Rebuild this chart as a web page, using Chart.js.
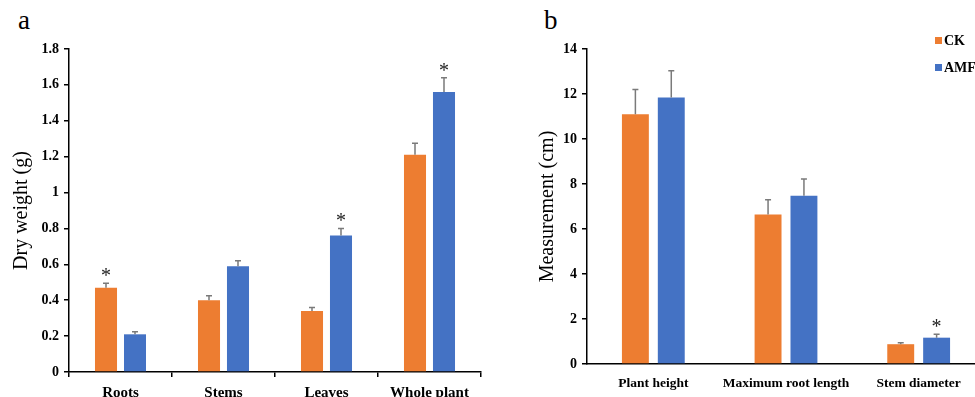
<!DOCTYPE html>
<html>
<head>
<meta charset="utf-8">
<script src="https://cdn.jsdelivr.net/npm/chart.js@4/dist/chart.umd.min.js"></script>
<style>
  body { margin: 0; width: 975px; height: 397px; overflow: hidden; background: #fff; position: relative; }
  .panel { position: absolute; top: 0; }
  .letter { position: absolute; font-family: "Liberation Serif", serif; font-size: 27px; color: #000; }
</style>
</head>
<body>
<div class="letter" style="left:18px; top:5px;">a</div>
<div class="letter" style="left:544px; top:5px;">b</div>
<canvas id="chartA" class="panel" style="left:0px" width="500" height="397"></canvas>
<canvas id="chartB" class="panel" style="left:520px" width="470" height="397"></canvas>
<script>
// panel a - dry weight
const partsA = ['Roots', 'Stems', 'Leaves', 'Whole plant'];
const ckA = [0.47, 0.40, 0.34, 1.21];
const amfA = [0.21, 0.59, 0.76, 1.56];
const ckErrA = [0.025, 0.025, 0.02, 0.065];
const amfErrA = [0.015, 0.03, 0.04, 0.08];
const ckSigA = [true, false, false, false];
const amfSigA = [false, false, true, true];
const yTicksA = [0, 0.2, 0.4, 0.6, 0.8, 1, 1.2, 1.4, 1.6, 1.8];
const yTickLabelsA = ['0', '0.2', '0.4', '0.6', '0.8', '1', '1.2', '1.4', '1.6', '1.8'];

// panel b - growth measurements
const partsB = ['Plant height', 'Maximum root length', 'Stem diameter'];
const ckB = [11.1, 6.65, 0.88];
const amfB = [11.85, 7.48, 1.17];
const ckErrB = [1.1, 0.65, 0.07];
const amfErrB = [1.18, 0.74, 0.15];
const ckSigB = [false, false, false];
const amfSigB = [false, false, true];
const yTicksB = [0, 2, 4, 6, 8, 10, 12, 14];
const yTickLabelsB = ['0', '2', '4', '6', '8', '10', '12', '14'];

const seriesNames = ['CK', 'AMF'];
const orange = '#ED7D31';
const blue = '#4472C4';
const serif = '"Liberation Serif", "Times New Roman", serif';

// error bars + asterisks, drawn from the y scale
const errorBars = {
    id: 'errorBars',
    afterDatasetsDraw(chart) {
        const ctx = chart.ctx;
        const y = chart.scales.y;
        chart.data.datasets.forEach((ds, i) => {
            const meta = chart.getDatasetMeta(i);
            meta.data.forEach((bar, j) => {
                const top = y.getPixelForValue(ds.data[j] + ds.errors[j]);
                ctx.save();
                ctx.strokeStyle = '#7a7a7a';
                ctx.lineWidth = 1.5;
                ctx.beginPath();
                ctx.moveTo(bar.x, bar.y);
                ctx.lineTo(bar.x, top);
                ctx.moveTo(bar.x - 3, top);
                ctx.lineTo(bar.x + 3, top);
                ctx.stroke();
                if (ds.sig[j]) {
                    ctx.fillStyle = '#222';
                    ctx.font = '20px ' + serif;
                    ctx.textAlign = 'center';
                    ctx.textBaseline = 'alphabetic';
                    ctx.fillText('*', bar.x, top - 1);
                }
                ctx.restore();
            });
        });
    }
};

// legend drawn at the top right of panel b
const sideLegend = {
    id: 'sideLegend',
    afterDraw(chart, args, opts) {
        if (!opts.show) return;
        const ctx = chart.ctx;
        chart.data.datasets.forEach((ds, i) => {
            const ly = 41 + i * 27;
            ctx.save();
            ctx.fillStyle = ds.backgroundColor;
            ctx.fillRect(415, ly - 4, 7, 7);
            ctx.fillStyle = '#000';
            ctx.font = 'bold 14px ' + serif;
            ctx.textBaseline = 'middle';
            ctx.fillText(ds.label, 424, ly);
            ctx.restore();
        });
    }
};

function makeChart(canvasId, labels, ck, amf, ckErr, amfErr, ckSig, amfSig, ticks, tickLabels, opts) {
    return new Chart(document.getElementById(canvasId), {
        type: 'bar',
        data: {
            labels: labels,
            datasets: [
                { label: seriesNames[0], data: ck, errors: ckErr, sig: ckSig, backgroundColor: orange,
                  barPercentage: opts.barPct, categoryPercentage: opts.catPct },
                { label: seriesNames[1], data: amf, errors: amfErr, sig: amfSig, backgroundColor: blue,
                  barPercentage: opts.barPct, categoryPercentage: opts.catPct }
            ]
        },
        options: {
            responsive: false,
            animation: false,
            devicePixelRatio: 1,
            layout: { padding: { top: 49, right: opts.padRight, left: 0, bottom: 0 } },
            plugins: {
                legend: { display: false },
                tooltip: { enabled: false },
                sideLegend: { show: opts.legend }
            },
            scales: {
                x: {
                    afterFit: s => { s.height = opts.xHeight; },
                    border: { display: true, color: '#000', width: 1.5 },
                    grid: { drawOnChartArea: false, color: '#000', tickColor: opts.xTicks ? '#000' : 'rgba(0,0,0,0)', tickLength: 5, lineWidth: 1.5 },
                    ticks: { color: '#000', font: { family: serif, size: opts.xFont, weight: 'bold' }, padding: opts.xPad, maxRotation: 0, autoSkip: false }
                },
                y: {
                    min: 0,
                    max: ticks[ticks.length - 1],
                    afterBuildTicks: axis => { axis.ticks = ticks.map(v => ({ value: v })); },
                    afterFit: s => { s.width = opts.yWidth; },
                    border: { display: true, color: '#000', width: 1.5 },
                    grid: { drawOnChartArea: false, color: '#000', tickLength: 5, lineWidth: 1.5 },
                    ticks: {
                        color: '#000', font: { family: serif, size: 14, weight: 'bold' }, padding: 5,
                        callback: (v, i) => tickLabels[i]
                    },
                    title: {
                        display: true, text: opts.yTitle, color: '#000',
                        font: { family: serif, size: 20 }, padding: { top: opts.titlePad, bottom: 0 }
                    }
                }
            }
        },
        plugins: [errorBars, sideLegend]
    });
}

makeChart('chartA', partsA, ckA, amfA, ckErrA, amfErrA, ckSigA, amfSigA, yTicksA, yTickLabelsA, {
    barPct: 0.76, catPct: 0.563, padRight: 19, xHeight: 25, yWidth: 69,
    xFont: 15, xPad: 7, xTicks: true, yTitle: 'Dry weight (g)', titlePad: 10, legend: false
});
makeChart('chartB', partsB, ckB, amfB, ckErrB, amfErrB, ckSigB, amfSigB, yTicksB, yTickLabelsB, {
    barPct: 0.75, catPct: 0.541, padRight: 5, xHeight: 33, yWidth: 67,
    xFont: 13.5, xPad: 6, xTicks: false, yTitle: 'Measurement (cm)', titlePad: 16, legend: true
});
</script>
</body>
</html>
